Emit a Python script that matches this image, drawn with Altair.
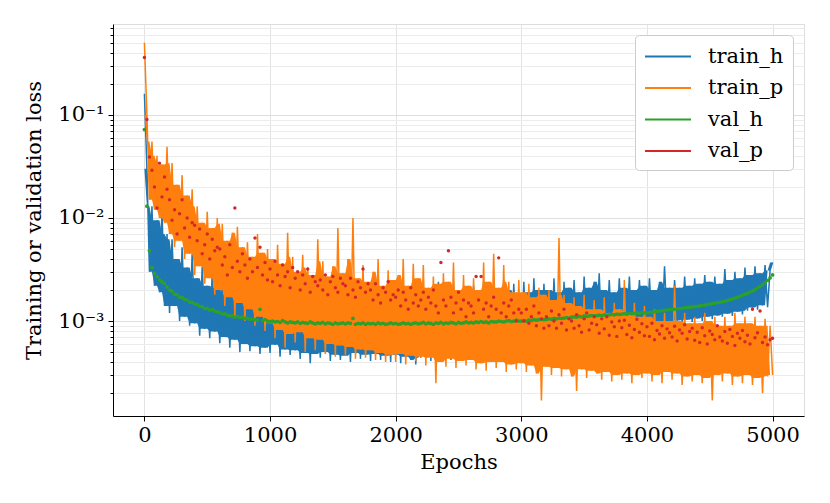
import altair as alt
import pandas as pd

# loss values below are given in units of 1e-4
UNIT = 1e-4

train_epochs = list(range(0, 5001, 20))
train_h = [
    1600, 300, 30, 130, 22, 95, 19, 120, 14, 70,
    12, 62, 14, 40, 10, 52, 11, 33, 9, 45,
    9.5, 26, 7.2, 34, 8.4, 22, 6.8, 30, 7.9, 21,
    6.1, 25, 7.0, 18, 5.5, 23, 6.6, 17, 5.0, 21,
    6.0, 16, 5.1, 20, 5.7, 14, 4.8, 19, 5.5, 15,
    4.9, 17, 5.9, 13, 4.5, 18, 5.3, 14, 4.7, 16,
    5.2, 13, 4.3, 17, 4.9, 14, 3.9, 16, 4.8, 13,
    4.4, 16, 5.0, 13, 4.1, 18, 4.7, 14, 4.2, 15,
    4.6, 14, 4.0, 19, 4.9, 15, 4.3, 22, 4.7, 14,
    4.1, 17, 4.8, 15, 4.2, 19, 4.6, 16, 4.0, 18,
    4.7, 16, 3.9, 21, 4.5, 17, 4.2, 20, 3.8, 16,
    4.4, 22, 4.8, 17, 4.1, 20, 4.6, 24, 4.3, 18,
    4.9, 19, 4.2, 23, 4.7, 18, 4.4, 21, 5.0, 17,
    4.3, 22, 4.8, 18, 4.5, 24, 5.1, 19, 4.6, 23,
    5.2, 19, 4.7, 25, 5.0, 20, 4.8, 23, 5.3, 18,
    5.0, 24, 5.6, 19, 5.2, 26, 5.7, 20, 5.3, 23,
    5.8, 20, 5.4, 26, 6.1, 19, 5.6, 24, 6.2, 21,
    6.8, 25, 7.4, 19, 6.9, 27, 7.5, 21, 7.1, 24,
    7.7, 29, 7.2, 20, 7.9, 25, 7.5, 19, 8.1, 26,
    7.8, 21, 8.4, 27, 8.0, 20, 8.6, 25, 8.2, 22,
    9.2, 26, 8.8, 20, 9.6, 24, 9.0, 34, 9.7, 21,
    9.4, 25, 10.1, 21, 9.6, 27, 10.3, 22, 9.8, 26,
    10.6, 23, 10.0, 28, 11.0, 24, 10.4, 27, 11.3, 23,
    11.0, 32, 11.8, 25, 11.2, 30, 12.3, 26, 11.6, 33,
    12.6, 28, 13.5, 34, 12.9, 29, 14.2, 35, 13.6, 31,
    37,
]
train_p = [
    5000, 1000, 150, 550, 120, 400, 100, 330, 90, 490,
    70, 340, 52, 210, 60, 260, 40, 165, 45, 190,
    28, 130, 34, 90, 23, 115, 26, 80, 18, 100,
    20, 88, 14, 60, 17, 72, 11, 82, 15, 52,
    10, 58, 13, 42, 9, 70, 11, 46, 8, 50,
    9.5, 40, 6.8, 55, 8.2, 36, 5.5, 72, 7.5, 42,
    6.2, 30, 7.8, 44, 5.0, 33, 6.8, 28, 5.2, 62,
    6.6, 38, 4.8, 27, 6.0, 34, 4.5, 80, 5.8, 29,
    4.6, 40, 5.6, 100, 4.3, 26, 5.3, 35, 4.4, 24,
    5.2, 30, 4.2, 40, 4.9, 22, 4.0, 31, 4.7, 25,
    4.0, 28, 4.8, 40, 3.8, 22, 4.6, 36, 4.1, 26,
    4.5, 35, 3.7, 21, 4.4, 27, 2.5, 23, 4.0, 29,
    3.6, 24, 4.3, 37, 3.5, 20, 4.1, 28, 3.7, 22,
    4.2, 26, 3.4, 20, 3.9, 37, 3.3, 24, 4.0, 45,
    3.5, 21, 4.0, 35, 3.2, 24, 3.8, 19, 3.4, 25,
    3.9, 19, 3.2, 23, 3.7, 17, 3.1, 21, 1.7, 18,
    3.6, 20, 3.0, 16, 3.5, 64, 2.9, 18, 3.4, 15,
    2.9, 17, 2.1, 14, 3.4, 18, 2.8, 13, 3.3, 16,
    3.1, 13, 2.7, 17, 3.2, 12, 2.6, 15, 3.0, 13,
    2.7, 25, 3.1, 12, 2.5, 15, 3.0, 11, 2.8, 14,
    3.1, 11, 2.6, 13, 3.0, 10, 2.5, 12, 3.2, 10,
    2.7, 22, 3.1, 10, 2.4, 12, 2.9, 9.5, 2.6, 11,
    3.0, 9.5, 2.5, 12, 2.8, 10, 1.7, 11, 3.0, 9,
    2.6, 11, 3.1, 9, 2.4, 12, 2.9, 9.5, 2.5, 11,
    3.0, 9.5, 2.4, 11, 2.8, 9, 2.0, 10.5, 2.9, 9,
    3.0,
]

val_epochs = list(range(0, 5001, 20))
val_h = [
    720, 130, 48, 33, 29, 27, 25, 24, 23, 21.5,
    20, 19.5, 18.2, 18.0, 17.1, 17.0, 16.2, 16.0, 15.3, 15.2,
    14.6, 14.5, 13.9, 13.8, 13.2, 13.3, 12.8, 12.9, 12.5, 12.3,
    12.1, 11.7, 11.8, 11.4, 11.2, 11.3, 10.9, 11.1, 10.8, 10.9,
    10.6, 10.7, 10.4, 10.5, 10.3, 10.2, 13.0, 10.1, 10.3, 10.0,
    9.9, 10.0, 9.8, 9.9, 9.7, 10.1, 9.8, 9.6, 9.8, 9.7,
    9.6, 9.8, 9.5, 9.7, 9.6, 9.5, 9.8, 9.6, 9.4, 9.6,
    9.5, 9.7, 9.4, 9.6, 9.5, 9.3, 9.6, 9.4, 9.5, 9.6,
    9.4, 9.6, 9.5, 10.6, 9.3, 9.5, 9.4, 9.6, 9.3, 9.5,
    9.4, 9.5, 9.3, 9.6, 9.4, 9.5, 9.3, 9.4, 9.6, 9.4,
    9.5, 9.3, 9.4, 9.6, 9.4, 9.5, 9.3, 9.5, 9.6, 9.4,
    9.5, 9.7, 9.4, 9.6, 9.5, 9.3, 9.6, 9.5, 9.7, 9.4,
    9.6, 9.5, 9.7, 9.6, 9.4, 9.7, 9.5, 9.6, 9.8, 9.6,
    9.7, 9.6, 9.8, 9.7, 9.9, 9.7, 9.8, 9.6, 9.9, 9.8,
    9.8, 10.0, 9.9, 9.8, 10.0, 10.1, 9.9, 10.0, 10.2, 10.0,
    10.0, 10.1, 10.0, 10.2, 10.1, 10.3, 10.2, 10.3, 10.4, 10.3,
    10.4, 10.5, 10.4, 10.6, 10.5, 10.7, 10.6, 10.7, 10.8, 10.7,
    10.9, 11.0, 10.9, 11.1, 11.0, 11.2, 11.1, 11.2, 11.3, 11.2,
    11.3, 11.4, 11.3, 11.5, 11.4, 11.5, 11.6, 11.5, 11.7, 11.6,
    11.7, 11.8, 11.7, 11.9, 11.8, 11.9, 12.0, 11.9, 12.1, 12.0,
    12.0, 12.1, 12.2, 12.3, 12.4, 12.5, 12.6, 12.7, 12.8, 12.9,
    13.0, 13.0, 13.1, 13.2, 13.3, 13.4, 13.5, 13.6, 13.7, 13.8,
    13.9, 14.0, 14.2, 14.3, 14.5, 14.6, 14.8, 14.9, 15.1, 15.2,
    15.4, 15.6, 15.8, 16.1, 16.4, 16.7, 17.0, 17.4, 17.8, 18.2,
    18.6, 19.1, 19.6, 20.2, 20.9, 21.7, 22.6, 23.6, 24.8, 26.2,
    28,
]
val_p = [
    3600, 900, 390, 290, 200, 125, 340, 160, 250, 190,
    150, 95, 120, 70, 110, 150, 80, 100, 65, 90,
    85, 60, 78, 45, 55, 70, 40, 62, 48, 52,
    50, 35, 42, 28, 55, 33, 125, 38, 30, 45,
    35, 26, 40, 30, 64, 33, 52, 28, 37, 25,
    32, 24, 38, 28, 22, 35, 27, 30, 21, 33,
    26, 30, 20, 28, 23, 32, 19, 27, 24, 22,
    25, 20, 28, 18, 24, 27, 21, 19, 26, 23,
    22, 18, 26, 20, 17, 24, 21, 32, 19, 23,
    20, 16, 23, 18, 15, 21, 19, 24, 16, 18,
    17, 20, 14, 19, 16, 13, 21, 15, 18, 14,
    16, 19, 13, 17, 15, 20, 14, 12, 37, 16,
    14, 48, 17, 12, 15, 19, 13, 16, 11, 15,
    14, 12, 27, 16, 27, 13, 15, 11, 14, 17,
    13, 41, 12, 15, 11, 14, 16, 12, 10, 13,
    12, 10, 13, 9.5, 11, 14, 9, 12, 10.5, 8.5,
    11, 9, 12.5, 10, 8.5, 11.5, 9.5, 13, 8.2, 10.5,
    10, 8.5, 11.5, 9, 7.8, 10.5, 12, 8.2, 9.5, 11,
    9.2, 7.6, 10.5, 8.4, 11, 7.3, 9.8, 8.8, 7.1, 10,
    8.6, 10.2, 7.4, 9.1, 6.9, 8.3, 10.4, 7.8, 9.4, 7.2,
    8.8, 7.1, 9.5, 6.6, 8.1, 7.5, 9.0, 6.8, 8.4, 7.7,
    7.0, 8.9, 6.4, 8.2, 7.6, 9.2, 6.7, 7.9, 8.5, 6.5,
    7.8, 6.2, 8.6, 7.2, 6.0, 8.0, 7.4, 6.6, 9.0, 7.0,
    6.4, 7.9, 6.1, 8.3, 7.1, 5.8, 7.6, 6.8, 8.1, 6.3,
    7.3, 6.0, 13, 6.9, 7.7, 12.5, 6.2, 7.0, 5.9, 6.6,
    6.8,
]

series_names = ["train_h", "train_p", "val_h", "val_p"]
series_colors = ["#1f77b4", "#ff7f0e", "#2ca02c", "#d62728"]

x_ticks = [0, 1000, 2000, 3000, 4000, 5000]
x_domain = [-250, 5250]
y_domain = [1.2e-4, 0.76]
y_major = [1e-3, 1e-2, 1e-1]
y_minor = [2e-4, 3e-4, 4e-4, 5e-4, 6e-4, 7e-4, 8e-4, 9e-4,
           2e-3, 3e-3, 4e-3, 5e-3, 6e-3, 7e-3, 8e-3, 9e-3,
           2e-2, 3e-2, 4e-2, 5e-2, 6e-2, 7e-2, 8e-2, 9e-2,
           2e-1, 3e-1, 4e-1, 5e-1, 6e-1, 7e-1]

FONT = "DejaVu Serif"
FS = 21


def frame(epochs, values, name):
    return pd.DataFrame({"epoch": epochs,
                         "loss": [v * UNIT for v in values],
                         "series": name})


df_th = frame(train_epochs, train_h, "train_h")
df_tp = frame(train_epochs, train_p, "train_p")
df_vh = frame(val_epochs, val_h, "val_h")
df_vp = frame(val_epochs, val_p, "val_p")

x_enc = alt.X("epoch:Q", scale=alt.Scale(domain=x_domain, nice=False, zero=False),
              axis=alt.Axis(values=x_ticks, title="Epochs", format="d",
                            grid=True, gridColor="#e3e3e3", gridWidth=1,
                            tickSize=5, tickColor="black", domainColor="black",
                            labelFont=FONT, labelFontSize=FS, labelColor="black",
                            labelPadding=3, titleFont=FONT, titleFontSize=FS,
                            titleFontWeight="normal", titleColor="black",
                            titlePadding=6))

y_scale = alt.Scale(type="log", domain=y_domain, nice=False, zero=False)
y_axis = alt.Axis(values=y_major, title="Training or validation loss", orient="left",
                  labelExpr="'10' + (datum.value < 0.005 ? '⁻³' : datum.value < 0.05 ? '⁻²' : '⁻¹')",
                  grid=True, gridColor="#dedede", gridWidth=1,
                  tickSize=5, tickColor="black", domainColor="black",
                  labelFont=FONT, labelFontSize=FS, labelColor="black",
                  labelPadding=4, titleFont=FONT, titleFontSize=FS,
                  titleFontWeight="normal", titleColor="black",
                  titlePadding=13)
y_loss = alt.Y("loss:Q", scale=y_scale, axis=y_axis)

color_scale = alt.Scale(domain=series_names, range=series_colors)
legend = alt.Legend(title=None, orient="top-right", offset=11,
                    symbolType="M-1,0H3", symbolSize=529, symbolStrokeWidth=2,
                    labelFont=FONT, labelFontSize=FS, labelColor="black",
                    labelOffset=39, rowPadding=8.5, padding=9,
                    fillColor="white", strokeColor="#cccccc", cornerRadius=4)
color_leg = alt.Color("series:N", scale=color_scale, legend=legend)
color_noleg = alt.Color("series:N", scale=color_scale, legend=None)


def noise_band(df, col):
    # solid core of the noisy training curve: running max/min of neighbouring
    # points with isolated spikes/dips removed (computed from the series itself)
    return alt.Chart(df).transform_window(
        hmax="max(loss)", lmin="min(loss)", frame=[0, 1],
        sort=[alt.SortField("epoch")]
    ).transform_window(
        top="min(hmax)", bot="max(lmin)", frame=[-1, 1],
        sort=[alt.SortField("epoch")]
    ).mark_area(color=col, opacity=1, interpolate="linear").encode(
        x=x_enc,
        y=alt.Y("bot:Q", scale=y_scale, axis=y_axis),
        y2="top:Q",
    )


blue_band = noise_band(df_th, series_colors[0])
blue = alt.Chart(df_th).mark_line(strokeWidth=1.5).encode(
    x=x_enc, y=y_loss, color=color_leg)
orange_band = noise_band(df_tp, series_colors[1])
orange = alt.Chart(df_tp).mark_line(strokeWidth=1.5).encode(
    x=x_enc, y=y_loss, color=color_leg)
green = alt.Chart(df_vh).mark_circle(size=14, opacity=1).encode(
    x=x_enc, y=y_loss, color=color_noleg)
red = alt.Chart(df_vp).mark_circle(size=12, opacity=1).encode(
    x=x_enc, y=y_loss, color=color_noleg)

data_layer = alt.layer(blue_band, blue, orange_band, orange, green, red)

minor = alt.Chart(pd.DataFrame({"loss": y_minor})).mark_rule(strokeOpacity=0).encode(
    y=alt.Y("loss:Q", scale=y_scale,
            axis=alt.Axis(values=y_minor, orient="left", labels=False, title=None,
                          domain=False, grid=True, gridColor="#ececec", gridWidth=1,
                          tickSize=3, tickColor="black")))

chart = alt.layer(minor, data_layer).resolve_scale(y="independent").properties(
    width=691, height=392,
    padding={"left": 105, "top": 16, "right": 10, "bottom": 75},
    autosize=alt.AutoSizeParams(type="none"),
).configure_view(stroke="black", strokeWidth=1).configure(background="white")

chart.save("out.html", embed_options={"renderer": "svg", "actions": False})
